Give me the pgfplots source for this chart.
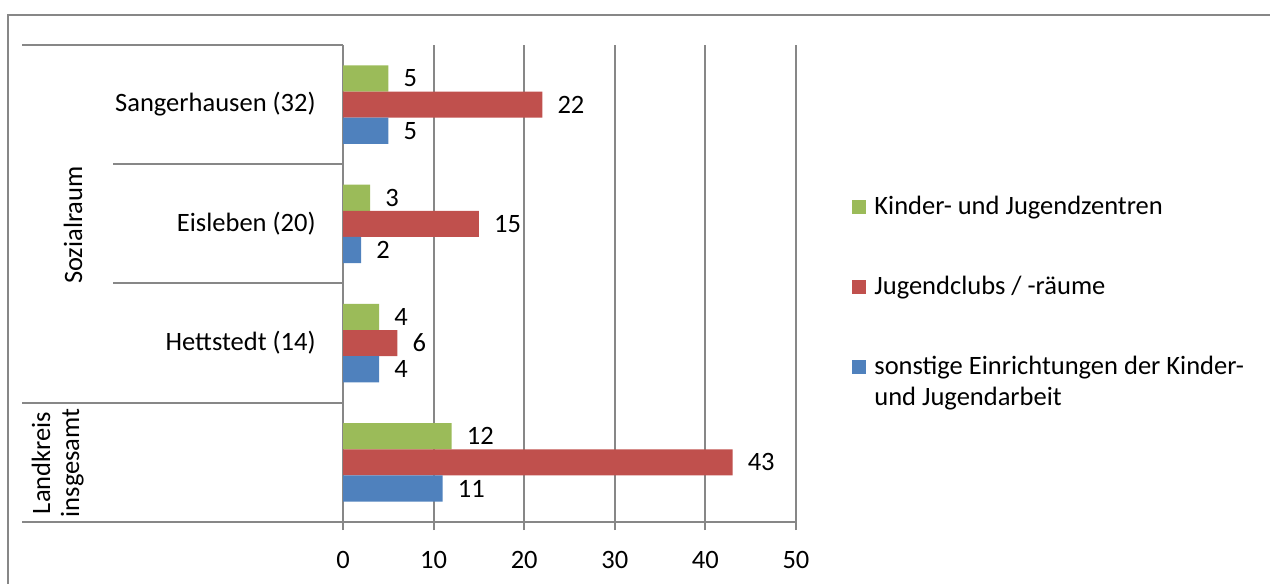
\documentclass[border=0pt]{standalone}
\usepackage{fontspec}
\setmainfont{Carlito}
\usepackage{pgfplots}
\pgfplotsset{compat=1.18}
\definecolor{cgreen}{HTML}{9BBB59}
\definecolor{cred}{HTML}{C0504D}
\definecolor{cblue}{HTML}{4F81BD}
\definecolor{axisgray}{HTML}{878787}
\newcommand{\cf}{\fontsize{13.25}{16}\selectfont}
\begin{document}
\cf
\begin{tikzpicture}[x=0.5pt,y=0.5pt,font=\cf]
\path[use as bounding box] (0,0) rectangle (1270,584);
\draw[axisgray, line width=1pt] (8,-6) -- (8,569) -- (1275,569);
\coordinate (A) at (343,62);
\begin{axis}[
  at={(A)}, anchor=south west,
  scale only axis, width=226.5pt, height=238.5pt,
  xmin=0, xmax=50, ymin=-0.5, ymax=3.5,
  xbar, bar width=0.22,
  axis x line*=bottom, axis y line*=left,
  axis line style={draw=axisgray, line width=1pt},
  xtick={0,10,20,30,40,50}, ytick=\empty,
  xmajorgrids, grid style={draw=axisgray, line width=1pt},
  tick align=outside, major tick length=4pt,
  tick style={draw=axisgray, line width=1pt},
  xticklabel style={font=\cf, yshift=-6pt},
  /pgf/number format/assume math mode=true,
  nodes near coords,
  nodes near coords style={font=\cf, black, xshift=3pt},
  every axis plot/.append style={draw=none},
  clip=false,
]
\addplot[fill=cgreen, draw=none, bar shift=0.22] coordinates {(5,3) (3,2) (4,1) (12,0)};
\addplot[fill=cred, draw=none, bar shift=0] coordinates {(22,3) (15,2) (6,1) (43,0)};
\addplot[fill=cblue, draw=none, bar shift=-0.22] coordinates {(5,3) (2,2) (4,1) (11,0)};
\end{axis}
% category lines
\draw[axisgray, line width=1pt] (22,539) -- (343,539);
\draw[axisgray, line width=1pt] (113,419.75) -- (343,419.75);
\draw[axisgray, line width=1pt] (113,300.5) -- (343,300.5);
\draw[axisgray, line width=1pt] (22,181.25) -- (343,181.25);
\draw[axisgray, line width=1pt] (22,62) -- (343,62);
% category labels
\node[anchor=base east, inner sep=0] at (316,472) {Sangerhausen (32)};
\node[anchor=base east, inner sep=0] at (316,352.5) {Eisleben (20)};
\node[anchor=base east, inner sep=0] at (316,233) {Hettstedt (14)};
\node[rotate=90, anchor=base, inner sep=0] at (82,359) {Sozialraum};
\node[rotate=90, anchor=base, inner sep=0] at (50,121) {Landkreis};
\node[rotate=90, anchor=base, inner sep=0] at (79,121) {insgesamt};
% legend
\fill[cgreen] (852,370) rectangle (866,384);
\node[anchor=base west, inner sep=0] at (874,369) {Kinder- und Jugendzentren};
\fill[cred] (852,290) rectangle (866,304);
\node[anchor=base west, inner sep=0] at (874,289) {Jugendclubs / -räume};
\fill[cblue] (852,210) rectangle (866,224);
\node[anchor=base west, inner sep=0] at (874,209) {sonstige Einrichtungen der Kinder-};
\node[anchor=base west, inner sep=0] at (874,178) {und Jugendarbeit};
\end{tikzpicture}
\end{document}
